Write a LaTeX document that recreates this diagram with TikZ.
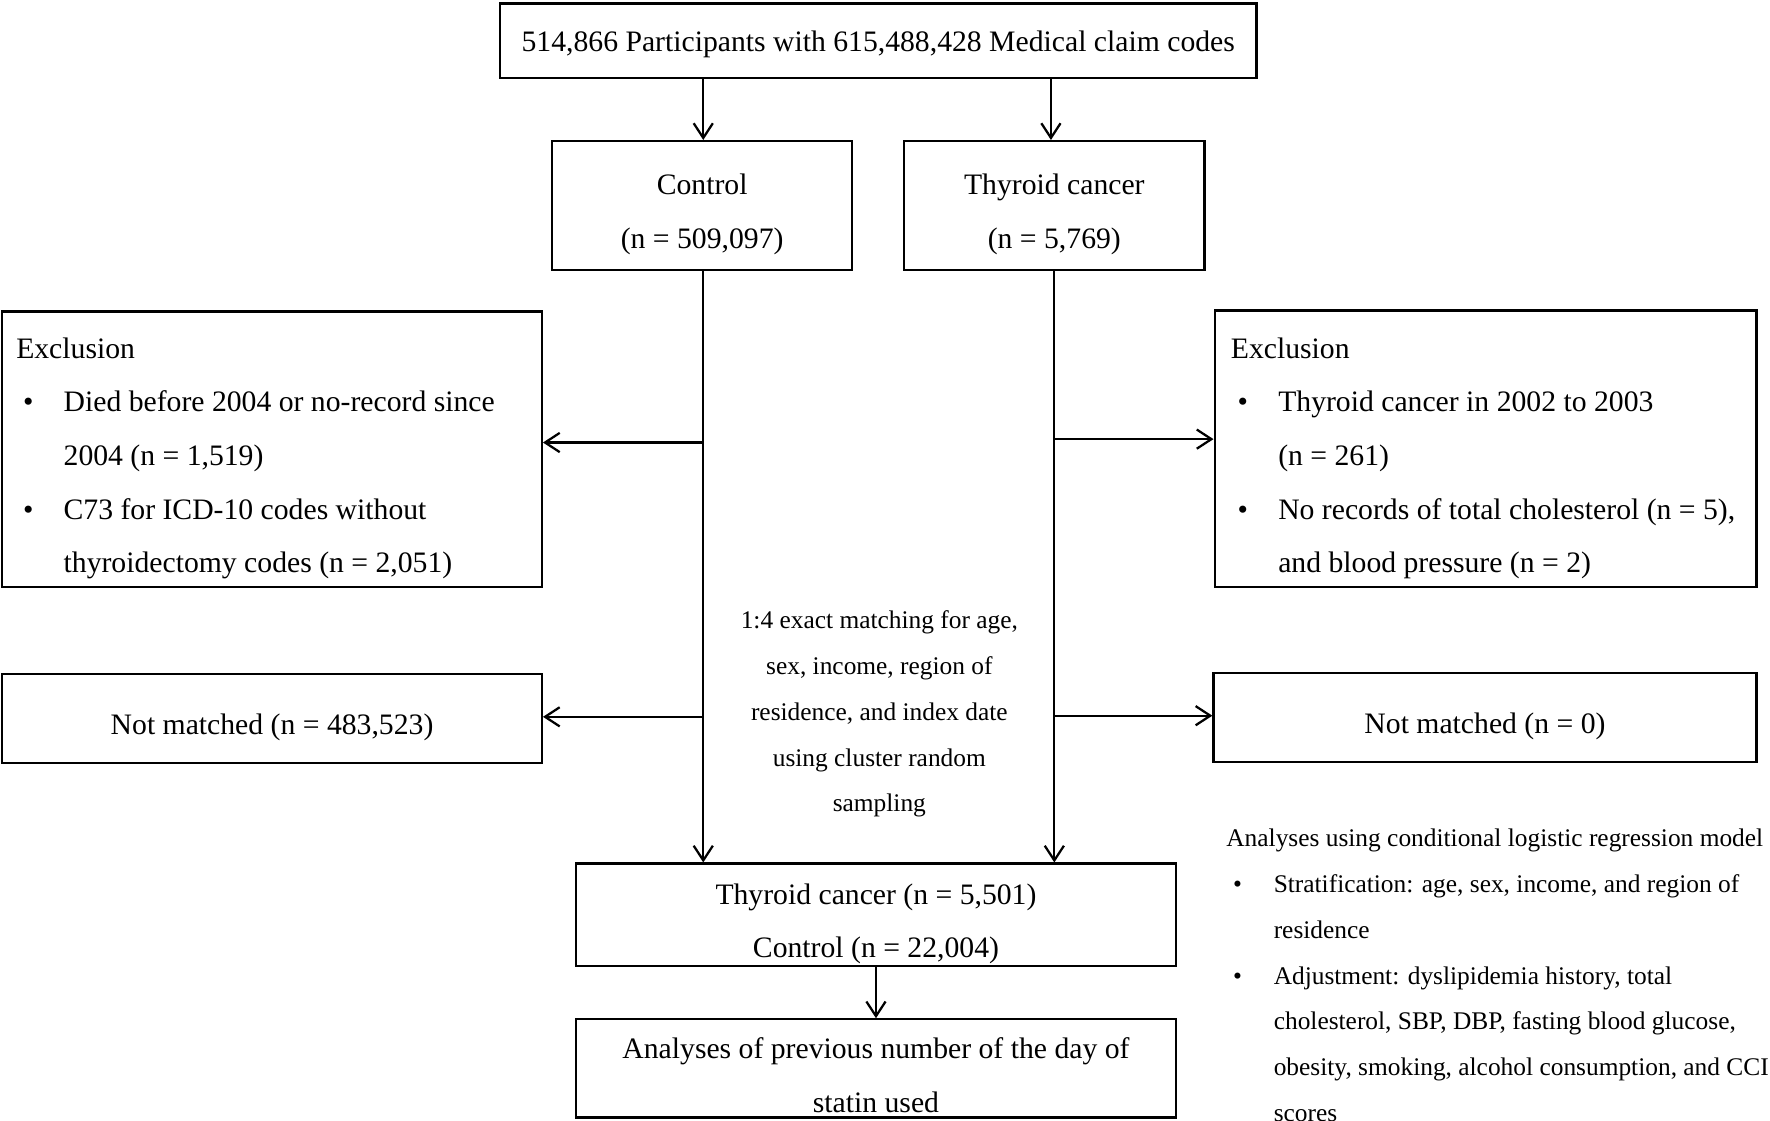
\documentclass[tikz,border=0pt]{standalone}
\usepackage{fontspec}
\setmainfont{Liberation Serif}
\usetikzlibrary{arrows.meta}
\newcommand\mainfs{\fontsize{13.15}{23.75}\selectfont}
\newcommand\smallfs{\fontsize{11.25}{20.3}\selectfont}
\newcommand\bl{\hspace*{3pt}\makebox[18pt][l]{\textbullet}}
\newcommand\ind{\hspace*{21pt}}
\tikzset{
  box/.style={draw, line width=1pt, inner sep=0pt},
  ctxt/.style={inner sep=0pt, font=\mainfs, align=center},
  txt/.style={inner sep=0pt, font=\mainfs, align=left, anchor=west},
  stxt/.style={inner sep=0pt, font=\smallfs, align=left, anchor=west},
  arr/.style={-{Straight Barb[length=6.5pt,width=8.5pt,line width=1pt]}, line width=1pt},
}
\begin{document}
\begin{tikzpicture}[x=0.5pt,y=-0.5pt]
\useasboundingbox (0,0) rectangle (1568,993);
\fill[white] (0,0) rectangle (1568,993);
% boxes
\node[box, minimum width=335pt, minimum height=33pt] (top) at (778,36) {};
\node[box, minimum width=133pt, minimum height=57pt] (ctrl) at (622,182) {};
\node[box, minimum width=133pt, minimum height=57pt] (thy) at (934,182) {};
\node[box, minimum width=239pt, minimum height=122pt] (exL) at (241,398) {};
\node[box, minimum width=240pt, minimum height=122.5pt] (exR) at (1316,397.5) {};
\node[box, minimum width=239pt, minimum height=39.5pt] (nmL) at (241,636.5) {};
\node[box, minimum width=240.5pt, minimum height=39.5pt] (nmR) at (1315.5,635.5) {};
\node[box, minimum width=266pt, minimum height=45.5pt] (fin) at (776,810.5) {};
\node[box, minimum width=266pt, minimum height=43.5pt] (ana) at (776,946.5) {};
% box texts
\node[ctxt] (topT) at ([yshift=-1.5pt]top.center) {514,866 Participants with 615,488,428 Medical claim codes};
\node[ctxt] (ctrlT) at ([yshift=-4pt]ctrl.center) {Control\\(n = 509,097)};
\node[ctxt] (thyT) at ([yshift=-4pt]thy.center) {Thyroid cancer\\(n = 5,769)};
\node[ctxt] (nmLT) at ([yshift=-4pt]nmL.center) {Not matched (n = 483,523)};
\node[ctxt] (nmRT) at ([yshift=-4pt]nmR.center) {Not matched (n = 0)};
\node[ctxt] (finT) at ([yshift=-4pt]fin.center) {Thyroid cancer (n = 5,501)\\Control (n = 22,004)};
\node[ctxt] (anaT) at ([yshift=-3pt]ana.center) {Analyses of previous number of the day of\\statin used};
\node[txt] (exLt) at (14,406) {Exclusion\\
\bl Died before 2004 or no-record since\\
\ind 2004 (n = 1,519)\\
\bl C73 for ICD-10 codes without\\
\ind thyroidectomy codes (n = 2,051)};
\node[txt] (exRt) at (1090,406) {Exclusion\\
\bl Thyroid cancer in 2002 to 2003\\
\ind (n = 261)\\
\bl No records of total cholesterol (n = 5),\\
\ind and blood pressure (n = 2)};
\node[inner sep=0pt, font=\smallfs, align=center] (match) at (779,632.5) {1:4 exact matching for age,\\sex, income, region of\\residence, and index date\\using cluster random\\sampling};
\node[stxt] (anl) at (1086,864) {Analyses using conditional logistic regression model\\
\bl Stratification: age, sex, income, and region of\\
\ind residence\\
\bl Adjustment: dyslipidemia history, total\\
\ind cholesterol, SBP, DBP, fasting blood glucose,\\
\ind obesity, smoking, alcohol consumption, and CCI\\
\ind scores};
% junction coordinates
\coordinate (jL1) at (623,392);
\coordinate (jL2) at (623,635);
\coordinate (jR1) at (934,389);
\coordinate (jR2) at (934,634);
% connectors
\draw[arr] (top.south -| 623,0) -- (ctrl.north -| 623,0);
\draw[arr] (top.south -| 931,0) -- (thy.north -| 931,0);
\draw[arr] (ctrl.south -| 623,0) -- (fin.north -| 623,0);
\draw[arr] (thy.south -| 934,0) -- (fin.north -| 934,0);
\draw[arr] (jL1) -- (jL1 -| exL.east);
\draw[arr] (jL2) -- (jL2 -| nmL.east);
\draw[arr] (jR1) -- (jR1 -| exR.west);
\draw[arr] (jR2) -- (jR2 -| nmR.west);
\draw[arr] (fin.south) -- (ana.north);
\end{tikzpicture}
\end{document}
